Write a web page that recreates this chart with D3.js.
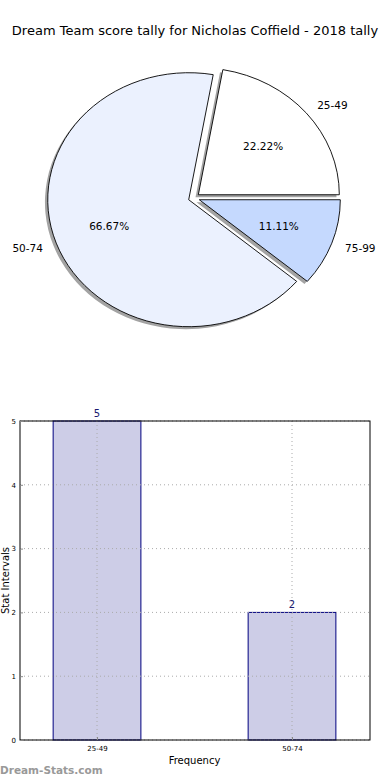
<!DOCTYPE html>
<html><head><meta charset="utf-8">
<script src="https://cdn.jsdelivr.net/npm/d3@7"></script>
<style>body{margin:0;background:#fff;}svg{display:block;font-family:"DejaVu Sans",sans-serif;}</style>
</head><body>
<svg id="c" width="390" height="780"></svg>
<script>
const title = "Dream Team score tally for Nicholas Coffield - 2018 tally";
const pieLabels = ["25-49", "50-74", "75-99"];
const pieValues = [2, 6, 1];
const pieColors = ["#ffffff", "#ebf1fe", "#c5d9fe"];
const barCategories = ["25-49", "50-74"];
const barValues = [5, 2];
const yTicks = [0, 1, 2, 3, 4, 5];

(function () {
const svg = d3.select("#c");
svg.append("text").attr("x", 195).attr("y", 35).attr("text-anchor", "middle")
  .attr("font-size", 13).attr("fill", "#000").text(title);

// ---- Pie ----
const cx = 194, cy = 198, rx = 141, ry = 127, explode = 0.04;
const total = d3.sum(pieValues);
let acc = 0;
const slices = pieValues.map((v, i) => {
  const a0 = acc / total * 2 * Math.PI;
  acc += v;
  const a1 = acc / total * 2 * Math.PI;
  return {i, v, a0, a1, mid: (a0 + a1) / 2};
});
const arc = d3.arc().innerRadius(0).outerRadius(1);
const pieG = svg.append("g");
function sliceTransform(s, dx, dy) {
  const ox = cx + explode * rx * Math.cos(s.mid) + dx;
  const oy = cy - explode * ry * Math.sin(s.mid) + dy;
  return `translate(${ox},${oy}) scale(${rx},${ry})`;
}
function d3path(s) {
  return arc({startAngle: Math.PI / 2 - s.a1, endAngle: Math.PI / 2 - s.a0});
}
slices.forEach(s => {
  pieG.append("path").attr("d", d3path(s))
    .attr("transform", sliceTransform(s, -2.8, 2.5))
    .attr("fill", "#a3a3a3");
});
slices.forEach(s => {
  pieG.append("path").attr("d", d3path(s))
    .attr("transform", sliceTransform(s, 0, 0))
    .attr("fill", pieColors[s.i]).attr("stroke", "#000")
    .attr("stroke-width", 0.9).attr("vector-effect", "non-scaling-stroke");
});
slices.forEach(s => {
  const ox = cx + explode * rx * Math.cos(s.mid);
  const oy = cy - explode * ry * Math.sin(s.mid);
  const pct = (s.v / total * 100).toFixed(2) + "%";
  pieG.append("text").attr("x", ox + 0.6 * rx * Math.cos(s.mid))
    .attr("y", oy - 0.6 * ry * Math.sin(s.mid) + 4)
    .attr("text-anchor", "middle").attr("font-size", 10.5).text(pct);
  const lx = ox + 1.1 * rx * Math.cos(s.mid);
  pieG.append("text").attr("x", lx)
    .attr("y", oy - 1.1 * ry * Math.sin(s.mid) + 4)
    .attr("text-anchor", Math.cos(s.mid) > 0 ? "start" : "end")
    .attr("font-size", 10.5).text(pieLabels[s.i]);
});

// ---- Bar chart ----
const pl = 20, pr = 370, pt = 421, pb = 740;
const x = d3.scaleLinear().domain([-0.395, 1.4]).range([pl, pr]);
const y = d3.scaleLinear().domain([0, 5]).range([pb, pt]);
const barW = 0.45;
const g = svg.append("g");

g.selectAll("rect.bar").data(barValues).join("rect").attr("class", "bar")
  .attr("x", (d, i) => x(i - barW / 2)).attr("width", x(barW) - x(0))
  .attr("y", d => y(d)).attr("height", d => y(0) - y(d))
  .attr("fill", "#cdcde7").attr("stroke", "#00007f").attr("stroke-width", 1);

g.selectAll("line.gy").data(yTicks).join("line").attr("class", "gy")
  .attr("x1", pl).attr("x2", pr).attr("y1", d => y(d)).attr("y2", d => y(d))
  .attr("stroke", "#aaaaaa").attr("stroke-width", 1).attr("stroke-dasharray", "1,3");
g.selectAll("line.gx").data(barCategories).join("line").attr("class", "gx")
  .attr("x1", (d, i) => x(i)).attr("x2", (d, i) => x(i)).attr("y1", pt).attr("y2", pb)
  .attr("stroke", "#aaaaaa").attr("stroke-width", 1).attr("stroke-dasharray", "1,3");

g.append("rect").attr("x", pl).attr("y", pt).attr("width", pr - pl).attr("height", pb - pt)
  .attr("fill", "none").attr("stroke", "#000").attr("stroke-width", 1);

const yAxis = d3.axisLeft(y).tickValues(yTicks).tickSize(-3).tickPadding(4).tickFormat(d3.format("d"));
const ya = g.append("g").attr("transform", `translate(${pl},0)`).call(yAxis);
ya.select(".domain").remove();
ya.selectAll("text").attr("font-size", 7).attr("font-family", "DejaVu Sans").attr("fill", "#000");
ya.selectAll("line").attr("stroke", "#888");

const xAxis = d3.axisBottom(x).tickValues(barCategories.map((d, i) => i)).tickSize(-3).tickPadding(6)
  .tickFormat(i => barCategories[i]);
const xa = g.append("g").attr("transform", `translate(0,${pb})`).call(xAxis);
xa.select(".domain").remove();
xa.selectAll("text").attr("font-size", 7).attr("font-family", "DejaVu Sans").attr("fill", "#000");
xa.selectAll("line").attr("stroke", "#888");

g.selectAll("text.val").data(barValues).join("text").attr("class", "val")
  .attr("x", (d, i) => x(i)).attr("y", d => y(d) - 4).attr("text-anchor", "middle")
  .attr("font-size", 10).attr("fill", "#1a1a70").text(d => d);

svg.append("text").attr("x", x(0.5)).attr("y", 764).attr("text-anchor", "middle")
  .attr("font-size", 10).text("Frequency");
svg.append("text").attr("transform", `translate(9,${(pt + pb) / 2}) rotate(-90)`)
  .attr("text-anchor", "middle").attr("font-size", 10).text("Stat Intervals");
svg.append("text").attr("x", 0).attr("y", 774).attr("font-size", 10.5).attr("font-weight", "bold")
  .attr("fill", "#999").text("Dream-Stats.com");
})();
</script>
</body></html>
